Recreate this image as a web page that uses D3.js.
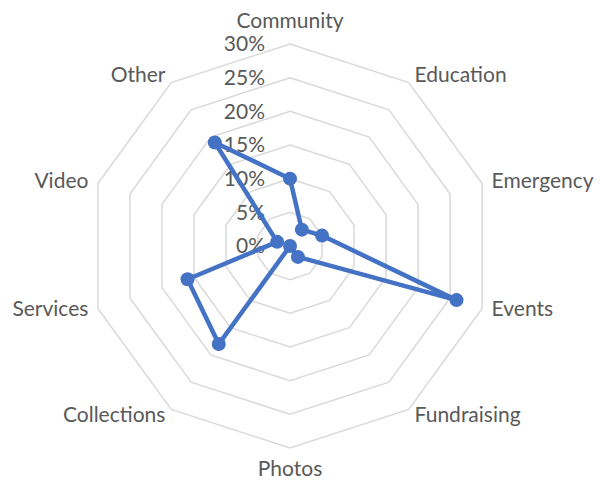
<!DOCTYPE html>
<html>
<head>
<meta charset="utf-8">
<script src="https://cdn.jsdelivr.net/npm/d3@7"></script>
<style>
  body { margin: 0; background: #fff; }
  svg text { font-family: Lato, "Open Sans", sans-serif; fill: #595959; }
</style>
</head>
<body>
<svg id="chart"></svg>
<script>
var width = 600, height = 485;
var cx = 290, cy = 246, radius = 202;

// categories clockwise from the top
var categories = ["Community", "Education", "Emergency", "Events", "Fundraising",
                  "Photos", "Collections", "Services", "Video", "Other"];
var shares = [0.10, 0.03, 0.05, 0.26, 0.02, 0.00, 0.18, 0.16, 0.02, 0.19];
var ticks = [0, 0.05, 0.10, 0.15, 0.20, 0.25, 0.30];
var tickLabels = ["0%", "5%", "10%", "15%", "20%", "25%", "30%"];

var svg = d3.select("#chart")
    .attr("width", width)
    .attr("height", height);

var r = d3.scaleLinear().domain([0, 0.30]).range([0, radius]);
var angle = d3.scalePoint()
    .domain(categories)
    .range([0, 2 * Math.PI * (categories.length - 1) / categories.length]);

var g = svg.append("g").attr("transform", "translate(" + cx + "," + cy + ")");

// grid rings (decagons)
var ring = d3.lineRadial().angle(function (d) { return angle(d); }).curve(d3.curveLinearClosed);
g.selectAll(".ring")
  .data(ticks.slice(1))
  .enter().append("path")
  .attr("class", "ring")
  .attr("d", function (t) { return ring.radius(r(t))(categories); })
  .attr("fill", "none")
  .attr("stroke", "#d9d9d9")
  .attr("stroke-width", 1.5);

// tick labels
g.selectAll(".tick")
  .data(ticks)
  .enter().append("text")
  .attr("x", -25)
  .attr("y", function (t) { return -r(t); })
  .attr("dy", "0.35em")
  .attr("text-anchor", "end")
  .attr("font-size", "21px")
  .text(function (t, i) { return tickLabels[i]; });

// category labels
g.selectAll(".cat")
  .data(categories)
  .enter().append("text")
  .attr("font-size", "21px")
  .attr("dy", "0.35em")
  .attr("text-anchor", function (c) {
    var s = Math.sin(angle(c));
    return s > 0.1 ? "start" : (s < -0.1 ? "end" : "middle");
  })
  .attr("x", function (c) {
    var s = Math.sin(angle(c));
    return Math.abs(s) > 0.1 ? (radius + 10) * s : 0;
  })
  .attr("y", function (c) {
    var co = Math.cos(angle(c));
    var off = Math.abs(Math.sin(angle(c))) > 0.1 ? 10 : 23;
    return -(radius + off) * co - (co < 0 ? 2.5 : 0);
  })
  .text(function (c) { return c; });

// series
var line = d3.lineRadial()
    .angle(function (d, i) { return angle(categories[i]); })
    .radius(function (d) { return r(d); })
    .curve(d3.curveLinearClosed);

g.append("path")
  .datum(shares)
  .attr("d", line)
  .attr("fill", "none")
  .attr("stroke", "#4472c4")
  .attr("stroke-width", 4.5)
  .attr("stroke-linejoin", "round");

g.selectAll(".pt")
  .data(shares)
  .enter().append("circle")
  .attr("cx", function (d, i) { return r(d) * Math.sin(angle(categories[i])); })
  .attr("cy", function (d, i) { return -r(d) * Math.cos(angle(categories[i])); })
  .attr("r", 7)
  .attr("fill", "#4472c4");
</script>
</body>
</html>
